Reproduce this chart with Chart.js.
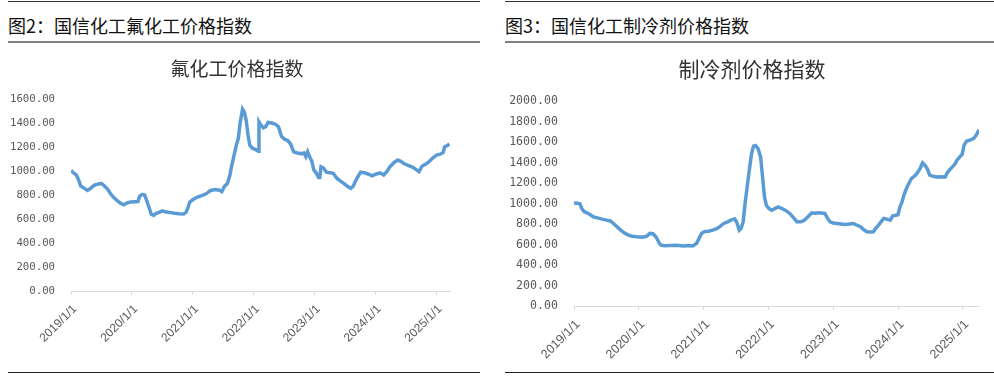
<!DOCTYPE html>
<html>
<head>
<meta charset="utf-8">
<script src="https://cdn.jsdelivr.net/npm/chart.js@4.4.1/dist/chart.umd.min.js"></script>
<style>
  body { margin: 0; width: 994px; height: 378px; background: #fff; position: relative; overflow: hidden; }
  .rule { position: absolute; height: 0; }
  .head { position: absolute; top: 13px; font-family: "Noto Sans CJK SC", sans-serif; font-size: 18px; font-weight: normal; color: #111; line-height: 24px; white-space: nowrap; }
  .ctitle { position: absolute; top: 54px; font-family: "Noto Sans CJK SC", sans-serif; color: #333; line-height: 28px; text-align: center; white-space: nowrap; }
  .box { position: absolute; top: 44px; height: 328px; }
</style>
</head>
<body>
<div class="rule" style="left:8px;width:472px;top:1px;border-top:1.5px solid #333;"></div>
<div class="rule" style="left:505px;width:489px;top:1px;border-top:1.5px solid #333;"></div>
<div class="head" style="left:8px;">图2：国信化工氟化工价格指数</div>
<div class="head" style="left:505px;">图3：国信化工制冷剂价格指数</div>
<div class="rule" style="left:8px;width:472px;top:41px;border-top:2px solid #808080;"></div>
<div class="rule" style="left:505px;width:489px;top:41px;border-top:2px solid #808080;"></div>
<div class="rule" style="left:8px;width:472px;top:372px;border-top:1.5px solid #222;"></div>
<div class="rule" style="left:505px;width:489px;top:372px;border-top:1.5px solid #222;"></div>

<div class="box" style="left:0;width:490px;"><canvas id="c1"></canvas></div>
<div class="box" style="left:497px;width:497px;"><canvas id="c2"></canvas></div>
<div class="ctitle" style="left:137px;width:200px;font-size:19px;">氟化工价格指数</div>
<div class="ctitle" style="left:652px;width:200px;font-size:21px;">制冷剂价格指数</div>

<script>
// year ticks on the x axis
var yearTicks = [2019, 2020, 2021, 2022, 2023, 2024, 2025];
var yearLabels = ['2019/1/1', '2020/1/1', '2021/1/1', '2022/1/1', '2023/1/1', '2024/1/1', '2025/1/1'];

// 氟化工价格指数 (time as decimal year)
var fluoroT = [2019.00,2019.04,2019.09,2019.13,2019.16,2019.22,2019.27,2019.32,2019.38,2019.44,2019.50,2019.55,2019.60,2019.65,2019.70,2019.76,2019.82,2019.87,2019.92,2019.98,
  2020.05,2020.10,2020.13,2020.17,2020.21,2020.24,2020.28,2020.32,2020.36,2020.40,2020.45,2020.50,2020.55,2020.62,2020.70,2020.78,2020.85,2020.89,2020.92,2020.95,
  2021.00,2021.07,2021.15,2021.22,2021.29,2021.36,2021.44,2021.48,2021.52,2021.57,2021.61,2021.64,2021.68,2021.72,2021.75,2021.78,2021.82,2021.85,2021.88,2021.91,2021.94,2021.98,
  2022.03,2022.08,2022.09,2022.12,2022.16,2022.20,2022.24,2022.30,2022.36,2022.41,2022.46,2022.51,2022.56,2022.61,2022.66,2022.72,2022.78,2022.83,2022.86,2022.89,2022.93,2022.96,2022.99,
  2023.03,2023.07,2023.09,2023.11,2023.15,2023.20,2023.26,2023.31,2023.37,2023.43,2023.49,2023.55,2023.60,2023.64,2023.70,2023.76,2023.82,2023.88,2023.95,
  2024.02,2024.08,2024.14,2024.19,2024.25,2024.31,2024.37,2024.42,2024.48,2024.55,2024.62,2024.68,2024.72,2024.77,2024.82,2024.88,2024.95,
  2025.01,2025.07,2025.12,2025.14,2025.18,2025.22];
var fluoroV = [1005,985,965,920,875,855,838,855,880,890,897,875,850,810,780,752,730,718,735,742,
  744,745,790,805,800,760,700,640,630,648,655,668,660,655,648,643,642,655,690,740,
  760,781,795,810,836,845,840,828,870,895,960,1040,1130,1220,1270,1400,1515,1490,1420,1300,1215,1190,
  1180,1165,1410,1385,1360,1370,1405,1400,1390,1369,1290,1265,1255,1225,1160,1150,1145,1150,1120,1160,1110,1080,1010,
  985,945,945,1036,1025,990,985,980,940,915,895,870,855,875,939,990,985,975,960,
  975,985,967,994,1040,1070,1092,1080,1060,1045,1030,1010,994,1040,1055,1075,1110,
  1133,1140,1155,1200,1210,1225];

// 制冷剂价格指数
var refrigT = [2019.00,2019.05,2019.09,2019.12,2019.16,2019.22,2019.30,2019.36,2019.42,2019.50,2019.56,2019.60,2019.65,2019.69,2019.74,2019.79,2019.85,2019.90,2019.97,
  2020.05,2020.12,2020.17,2020.22,2020.27,2020.31,2020.34,2020.40,2020.48,2020.56,2020.62,2020.69,2020.76,2020.83,2020.89,2020.93,2020.97,
  2021.02,2021.08,2021.14,2021.21,2021.26,2021.31,2021.37,2021.42,2021.48,2021.51,2021.55,2021.58,2021.61,2021.64,2021.67,2021.70,2021.74,2021.77,2021.80,2021.84,2021.88,2021.91,2021.94,2021.97,
  2022.01,2022.05,2022.10,2022.15,2022.21,2022.26,2022.33,2022.39,2022.44,2022.50,2022.55,2022.61,2022.67,2022.72,2022.78,2022.87,2022.91,2022.95,
  2023.00,2023.06,2023.12,2023.18,2023.25,2023.31,2023.36,2023.42,2023.47,2023.52,2023.58,2023.62,2023.66,2023.70,2023.75,2023.78,2023.84,2023.88,2023.92,2023.97,
  2024.00,2024.03,2024.06,2024.09,2024.13,2024.17,2024.21,2024.26,2024.30,2024.34,2024.38,2024.42,2024.45,2024.49,2024.54,2024.60,2024.67,2024.73,2024.76,2024.80,2024.84,2024.88,2024.91,2024.96,2024.99,
  2025.02,2025.06,2025.12,2025.17,2025.21,2025.25];
var refrigV = [1005,1002,998,950,920,903,870,860,850,838,830,810,780,757,730,708,690,680,675,
  672,680,708,705,670,620,594,588,590,592,590,585,590,586,610,660,710,
  728,730,740,757,780,805,820,838,850,820,740,760,820,1000,1150,1300,1487,1560,1565,1536,1454,1259,1060,980,
  950,935,950,967,950,935,903,860,821,822,835,870,909,905,909,903,860,821,
  810,805,800,795,800,805,790,773,745,724,722,724,760,789,830,854,845,838,880,886,
  890,967,1010,1080,1146,1200,1244,1270,1300,1341,1396,1370,1341,1276,1265,1259,1262,1259,1300,1330,1357,1385,1422,1460,1480,
  1570,1610,1620,1635,1670,1720];

function makeChart(id, t, v, opt) {
  var pts = t.map(function(x, i) { return { x: x, y: v[i] }; });
  return new Chart(document.getElementById(id), {
    type: 'line',
    data: { datasets: [{ data: pts, borderColor: '#5b9bd5', borderWidth: 3.5, pointRadius: 0, tension: 0, fill: false }] },
    options: {
      responsive: true,
      maintainAspectRatio: false,
      animation: false,
      layout: { padding: { left: 0, right: opt.padRight, top: opt.padTop, bottom: 0 } },
      plugins: { legend: { display: false }, tooltip: { enabled: false } },
      scales: {
        x: {
          type: 'linear', min: 2019, max: opt.xMax,
          afterBuildTicks: function(s) { s.ticks = yearTicks.map(function(y) { return { value: y }; }); },
          afterFit: function(s) { s.height = opt.xHeight; },
          grid: { display: true, drawOnChartArea: false, drawTicks: true, tickLength: 4, color: '#d9d9d9' },
          border: { display: true, color: '#d9d9d9', width: 1 },
          ticks: {
            autoSkip: false, minRotation: 45, maxRotation: 45, padding: 7, labelOffset: 4, color: '#595959',
            font: { family: '"Liberation Sans", Arial, sans-serif', size: opt.xFont },
            callback: function(val) { var i = yearTicks.indexOf(val); return i < 0 ? '' : yearLabels[i]; }
          }
        },
        y: {
          min: 0, max: opt.yMax,
          afterFit: function(s) { s.width = opt.yWidth; },
          grid: { display: false, drawTicks: false },
          border: { display: false },
          ticks: {
            stepSize: 200, padding: 16, color: '#595959',
            font: { family: '"DejaVu Sans Mono", monospace', size: opt.yFont },
            callback: function(val) { return val.toFixed(2); }
          }
        }
      }
    }
  });
}

makeChart('c1', fluoroT, fluoroV,
  { padRight: 40, padTop: 55, xMax: 2025.23, xHeight: 81, yMax: 1600, yWidth: 71, xFont: 12, yFont: 10.7 });
makeChart('c2', refrigT, refrigV,
  { padRight: 15, padTop: 57, xMax: 2025.25, xHeight: 66, yMax: 2000, yWidth: 77, xFont: 12.5, yFont: 11.6 });
</script>
</body>
</html>
